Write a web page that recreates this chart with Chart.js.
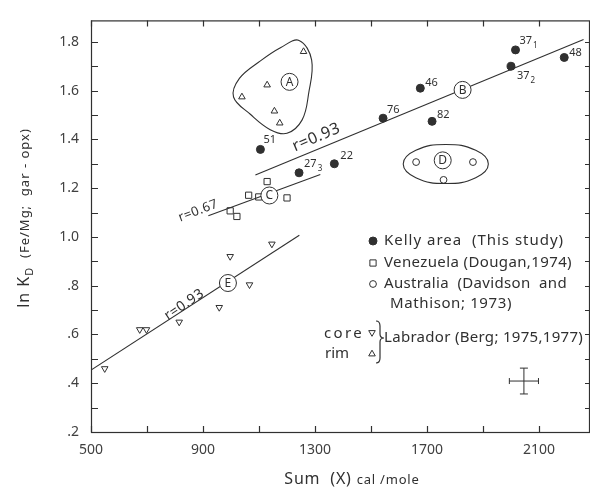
<!DOCTYPE html>
<html>
<head>
<meta charset="utf-8">
<script src="https://cdn.jsdelivr.net/npm/chart.js@4.4.1/dist/chart.umd.min.js"></script>
<style>
  html, body { margin: 0; padding: 0; background: #fff; }
  canvas { display: block; }
</style>
</head>
<body>
<canvas id="kd" width="590" height="489"></canvas>
<script>
// Sum(X) in cal/mole against ln KD, one pair of arrays per sample group
const kellyX = [1105, 1243, 1369, 1543, 1676, 1718, 2016, 2000, 2190];
const kellyY = [1.359, 1.263, 1.300, 1.487, 1.610, 1.474, 1.767, 1.700, 1.736];
const kellyNames = ['51', '27|3', '22', '76', '46', '82', '37|1', '37|2', '48'];

const venezuelaX = [1129, 1063, 1099, 1200, 997, 1021];
const venezuelaY = [1.227, 1.171, 1.164, 1.160, 1.107, 1.084];

const australiaX = [1661, 1864, 1759];
const australiaY = [1.307, 1.307, 1.234];

const coreX = [549, 674, 698, 815, 958, 997, 1066, 1146];
const coreY = [0.460, 0.620, 0.620, 0.651, 0.711, 0.920, 0.804, 0.971];

const rimX = [1039, 1129, 1155, 1174, 1259];
const rimY = [1.574, 1.623, 1.516, 1.467, 1.760];

// regression lines (end points)
const lineBX = [1087, 2259];
const lineBY = [1.254, 1.810];
const lineCX = [919, 1319];
const lineCY = [1.087, 1.256];
const lineEX = [500, 1244];
const lineEY = [0.454, 1.007];

// outlines round group A and group D
const blobAX = [1243, 1288, 1277, 1254, 1200, 1140, 1069, 1009, 1030, 1105, 1178];
const blobAY = [1.806, 1.725, 1.587, 1.480, 1.425, 1.440, 1.503, 1.574, 1.650, 1.722, 1.777];
const blobDX = [1615, 1660, 1767, 1874, 1919, 1874, 1767, 1660];
const blobDY = [1.299, 1.355, 1.379, 1.355, 1.299, 1.243, 1.219, 1.243];

// circled group letters
const groupNames = ['A', 'B', 'C', 'D', 'E'];
const groupX = [1209, 1827, 1137, 1756, 989];
const groupY = [1.636, 1.603, 1.170, 1.314, 0.811];

// correlation labels
const corrText = ['r=0.93', 'r=0.67', 'r=0.93'];
const corrX = [1305, 883, 833];
const corrY = [1.408, 1.107, 0.722];

// typical error
const errX = [2046];
const errY = [0.409];
const errDX = [52];
const errDY = [0.053];

// axis ticks
const xTickVals = [500, 700, 900, 1100, 1300, 1500, 1700, 1900, 2100];
const xTickLabels = [500, 900, 1300, 1700, 2100];
const yTickVals = [0.2, 0.3, 0.4, 0.5, 0.6, 0.7, 0.8, 0.9, 1.0, 1.1, 1.2, 1.3, 1.4, 1.5, 1.6, 1.7, 1.8];
const yTickLabels = [0.2, 0.4, 0.6, 0.8, 1.0, 1.2, 1.4, 1.6, 1.8];
const yTickText = ['.2', '.4', '.6', '.8', '1.0', '1.2', '1.4', '1.6', '1.8'];

const ink = '#303030';
const FONT = '"Noto Sans", sans-serif';

// text offsets of the sample numbers from their dots, pixels
const nameOffsets = [[3, -6], [5, -6], [6, -5], [4, -5], [5, -2], [5, -3], [4, -6], [6, 13], [5, -1]];
const corrAngles = [-23, -21, -34];
const corrSizes = [16, 13, 14];

const pts = (xs, ys) => xs.map((x, i) => ({ x: x, y: ys[i] }));

// closed smooth outline: pad both ends so every drawn piece has neighbours
function loop(xs, ys) {
  const p = pts(xs, ys);
  const n = p.length;
  return [p[n - 1]].concat(p, [p[0], p[1]]);
}

function outline(xs, ys, tension) {
  const data = loop(xs, ys);
  const last = data.length - 1;
  return {
    data: data,
    showLine: true,
    tension: tension,
    borderColor: ink,
    borderWidth: 1.1,
    pointRadius: 0,
    segment: {
      borderColor: c => (c.p0DataIndex === 0 || c.p1DataIndex === last) ? 'rgba(0,0,0,0)' : undefined
    }
  };
}

function straight(xs, ys) {
  return { data: pts(xs, ys), showLine: true, borderColor: ink, borderWidth: 1.1, pointRadius: 0 };
}

function marks(xs, ys, style, radius, filled, rotation) {
  return {
    data: pts(xs, ys),
    pointStyle: style,
    pointRadius: radius,
    pointRotation: rotation || 0,
    pointBorderWidth: 1,
    pointBorderColor: ink,
    pointBackgroundColor: filled ? ink : '#fff',
    showLine: false
  };
}

const errH = {
  data: [{ x: errX[0] - errDX[0], y: errY[0] }, { x: errX[0] + errDX[0], y: errY[0] }],
  showLine: true, borderColor: ink, borderWidth: 1,
  pointStyle: 'line', pointRotation: 90, pointRadius: 3, pointBorderColor: ink, pointBorderWidth: 1
};
const errV = {
  data: [{ x: errX[0], y: errY[0] - errDY[0] }, { x: errX[0], y: errY[0] + errDY[0] }],
  showLine: true, borderColor: ink, borderWidth: 1,
  pointStyle: 'line', pointRotation: 0, pointRadius: 4, pointBorderColor: ink, pointBorderWidth: 1
};

function textWithSub(ctx, s, x, y, size) {
  const parts = s.split('|');
  ctx.font = size + 'px ' + FONT;
  const w0 = ctx.measureText(parts[0]).width;
  ctx.textAlign = 'left';
  ctx.fillText(parts[0], x, y);
  if (parts[1]) {
    ctx.font = (size - 3) + 'px ' + FONT;
    ctx.fillText(parts[1], x + w0 + 1, y + 4);
  }
}

// key text, spaced out to a given width
function spread(ctx, s, x, y, width) {
  ctx.letterSpacing = '0px';
  const w = ctx.measureText(s).width;
  ctx.letterSpacing = ((width - w) / s.length).toFixed(2) + 'px';
  ctx.fillText(s, x, y);
  ctx.letterSpacing = '0px';
}

const near = (list, v) => list.findIndex(t => Math.abs(t - v) < 1e-6);

const decor = {
  id: 'decor',
  afterDatasetsDraw(chart) {
    const ctx = chart.ctx;
    const a = chart.chartArea;
    const xs = chart.scales.x, ys = chart.scales.y;
    ctx.save();
    ctx.strokeStyle = ink;
    ctx.fillStyle = ink;
    ctx.lineWidth = 1.2;

    // frame with inward ticks
    ctx.strokeRect(a.left + 0.5, a.top + 0.5, a.right - a.left - 1, a.bottom - a.top);
    ctx.beginPath();
    xs.ticks.forEach(t => {
      const px = Math.round(xs.getPixelForValue(t.value)) + 0.5;
      ctx.moveTo(px, a.bottom); ctx.lineTo(px, a.bottom - 6);
      ctx.moveTo(px, a.top); ctx.lineTo(px, a.top + 6);
    });
    ys.ticks.forEach(t => {
      const py = Math.round(ys.getPixelForValue(t.value)) + 0.5;
      ctx.moveTo(a.left, py); ctx.lineTo(a.left + 7, py);
      ctx.moveTo(a.right, py); ctx.lineTo(a.right - 5, py);
    });
    ctx.stroke();

    // sample numbers
    ctx.textBaseline = 'alphabetic';
    kellyNames.forEach((s, i) => {
      const px = xs.getPixelForValue(kellyX[i]) + nameOffsets[i][0];
      const py = ys.getPixelForValue(kellyY[i]) + nameOffsets[i][1];
      textWithSub(ctx, s, px, py, 11);
    });

    // correlation coefficients along the fitted lines
    corrText.forEach((s, i) => {
      ctx.save();
      ctx.translate(xs.getPixelForValue(corrX[i]), ys.getPixelForValue(corrY[i]));
      ctx.rotate(corrAngles[i] * Math.PI / 180);
      ctx.font = corrSizes[i] + 'px ' + FONT;
      ctx.letterSpacing = '0.5px';
      ctx.textAlign = 'center';
      ctx.textBaseline = 'middle';
      ctx.fillText(s, 0, 0);
      ctx.restore();
    });

    // circled group letters
    ctx.lineWidth = 1;
    groupNames.forEach((s, i) => {
      const px = xs.getPixelForValue(groupX[i]);
      const py = ys.getPixelForValue(groupY[i]);
      ctx.beginPath();
      ctx.arc(px, py, 8.5, 0, Math.PI * 2);
      ctx.fillStyle = '#fff';
      ctx.fill();
      ctx.stroke();
      ctx.fillStyle = ink;
      ctx.font = '12px ' + FONT;
      ctx.textAlign = 'center';
      ctx.textBaseline = 'middle';
      ctx.fillText(s, px, py + 0.5);
    });

    // key
    const dp = Chart.helpers.drawPoint;
    const key = [
      { style: 'circle', r: 4, fill: ink, x: 373, y: 241, text: 'Kelly area  (This study)', w: 180 },
      { style: 'rect', r: 4.4, fill: '#fff', x: 373, y: 263, text: 'Venezuela (Dougan,1974)', w: 188 },
      { style: 'circle', r: 3.4, fill: '#fff', x: 373, y: 284, text: 'Australia  (Davidson  and', w: 183 }
    ];
    ctx.textAlign = 'left';
    ctx.textBaseline = 'middle';
    ctx.font = '15px ' + FONT;
    key.forEach(k => {
      ctx.fillStyle = k.fill;
      ctx.strokeStyle = ink;
      ctx.lineWidth = 1;
      dp(ctx, { pointStyle: k.style, radius: k.r, rotation: 0, borderWidth: 1 }, k.x, k.y);
      ctx.fillStyle = ink;
      spread(ctx, k.text, k.x + 11, k.y, k.w);
    });
    spread(ctx, 'Mathison; 1973)', 390, 304, 122);
    spread(ctx, 'core', 324, 334, 40);
    spread(ctx, 'rim', 325, 354, 24);
    spread(ctx, 'Labrador (Berg; 1975,1977)', 384, 338, 199);
    ctx.fillStyle = '#fff';
    dp(ctx, { pointStyle: 'triangle', radius: 3.8, rotation: 180, borderWidth: 1 }, 372, 332.5);
    dp(ctx, { pointStyle: 'triangle', radius: 3.8, rotation: 0, borderWidth: 1 }, 372, 354);
    ctx.fillStyle = ink;

    // brace
    ctx.beginPath();
    ctx.lineWidth = 1.2;
    ctx.moveTo(376, 321);
    ctx.quadraticCurveTo(380, 321, 380, 326);
    ctx.lineTo(380, 334);
    ctx.quadraticCurveTo(380, 338, 384, 338);
    ctx.quadraticCurveTo(380, 338, 380, 342);
    ctx.lineTo(380, 358);
    ctx.quadraticCurveTo(380, 363, 376, 363);
    ctx.stroke();

    // axis titles
    ctx.textBaseline = 'alphabetic';
    ctx.font = '16px ' + FONT;
    ctx.letterSpacing = '0.8px';
    const t1 = 'Sum  (X) ';
    const w1 = ctx.measureText(t1).width;
    ctx.font = '13px ' + FONT;
    const t2 = 'cal /mole';
    const w2 = ctx.measureText(t2).width;
    const lx = 352 - (w1 + w2) / 2;
    ctx.font = '16px ' + FONT;
    ctx.fillText(t1, lx, 484);
    ctx.font = '13px ' + FONT;
    ctx.fillText(t2, lx + w1, 484);

    ctx.save();
    ctx.translate(29, 218);
    ctx.rotate(-Math.PI / 2);
    const segs = [['ln K', 16, 0], ['D', 11, 4], ['  (Fe/Mg;  gar - opx)', 13, 0]];
    let total = 0;
    ctx.letterSpacing = '1px';
    segs.forEach(sg => { ctx.font = sg[1] + 'px ' + FONT; sg.push(ctx.measureText(sg[0]).width); total += sg[3]; });
    let cx = -total / 2;
    segs.forEach(sg => {
      ctx.font = sg[1] + 'px ' + FONT;
      ctx.fillText(sg[0], cx, sg[2]);
      cx += sg[3];
    });
    ctx.restore();

    ctx.restore();
  }
};

new Chart(document.getElementById('kd'), {
  type: 'scatter',
  data: {
    datasets: [
      straight(lineBX, lineBY),
      straight(lineCX, lineCY),
      straight(lineEX, lineEY),
      outline(blobAX, blobAY, 0.38),
      outline(blobDX, blobDY, 0.45),
      errH,
      errV,
      marks(kellyX, kellyY, 'circle', 4, true),
      marks(venezuelaX, venezuelaY, 'rect', 4.4, false),
      marks(australiaX, australiaY, 'circle', 3.4, false),
      marks(coreX, coreY, 'triangle', 3.8, false, 180),
      marks(rimX, rimY, 'triangle', 3.8, false)
    ]
  },
  options: {
    responsive: false,
    animation: false,
    events: [],
    layout: { autoPadding: false, padding: { top: 10, right: 0, left: 0, bottom: 0 } },
    plugins: { legend: { display: false }, tooltip: { enabled: false } },
    scales: {
      x: {
        type: 'linear',
        min: 500,
        max: 2282,
        grid: { display: false, drawTicks: false },
        border: { display: false },
        afterBuildTicks: s => { s.ticks = xTickVals.map(v => ({ value: v })); },
        ticks: {
          autoSkip: false,
          maxRotation: 0,
          padding: 10,
          color: '#404040',
          font: { family: FONT, size: 14 },
          callback: v => near(xTickLabels, v) >= 0 ? String(v) : ''
        },
        afterFit: s => { s.height = 57; }
      },
      y: {
        type: 'linear',
        min: 0.2,
        max: 1.888,
        grid: { display: false, drawTicks: false },
        border: { display: false },
        afterBuildTicks: s => { s.ticks = yTickVals.map(v => ({ value: v })); },
        ticks: {
          autoSkip: false,
          padding: 12,
          color: '#404040',
          font: { family: FONT, size: 14 },
          callback: v => {
            const i = near(yTickLabels, v);
            return i >= 0 ? yTickText[i] : '';
          }
        },
        afterFit: s => { s.width = 91; }
      }
    }
  },
  plugins: [decor]
});
</script>
</body>
</html>
